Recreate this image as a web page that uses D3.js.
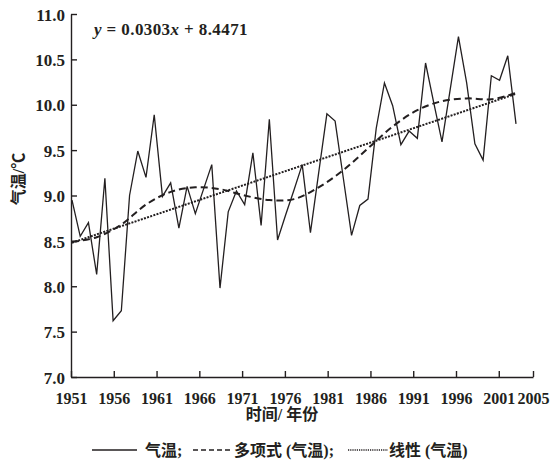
<!DOCTYPE html>
<html>
<head>
<meta charset="utf-8">
<script src="https://cdn.jsdelivr.net/npm/d3@7"></script>
<style>
  body { margin: 0; background: #fff; }
  text { font-family: "Liberation Serif", "Noto Sans CJK SC", serif; font-weight: bold; fill: #231f20; }
</style>
</head>
<body>
<div id="chart"></div>
<script>

// data: annual mean temperature
var years = [1951, 1952, 1953, 1954, 1955, 1956, 1957, 1958, 1959, 1960,
  1961, 1962, 1963, 1964, 1965, 1966, 1967, 1968, 1969, 1970,
  1971, 1972, 1973, 1974, 1975, 1976, 1977, 1978, 1979, 1980,
  1981, 1982, 1983, 1984, 1985, 1986, 1987, 1988, 1989, 1990,
  1991, 1992, 1993, 1994, 1995, 1996, 1997, 1998, 1999, 2000,
  2001, 2002, 2003, 2004, 2005];
var temps = [8.95, 8.55, 8.70, 8.13, 9.19, 7.62, 7.73, 9.00, 9.49, 9.20,
  9.89, 8.99, 9.14, 8.64, 9.10, 8.80, 9.07, 9.34, 7.98, 8.82,
  9.05, 8.90, 9.47, 8.67, 9.84, 8.51, 8.79, 9.06, 9.34, 8.59,
  9.25, 9.90, 9.82, 9.19, 8.56, 8.89, 8.96, 9.74, 10.24, 9.99,
  9.56, 9.71, 9.63, 10.46, 10.02, 9.59, 10.17, 10.75, 10.24, 9.57,
  9.39, 10.32, 10.27, 10.54, 9.79];

// polynomial trend
var polyYears = [1951, 1954, 1957, 1960, 1963, 1966, 1969, 1972, 1975, 1978,
  1981, 1984, 1987, 1990, 1993, 1996, 1999, 2002, 2005];
var polyTemps = [8.49, 8.54, 8.68, 8.90, 9.04, 9.09, 9.07, 9.00, 8.95, 8.96,
  9.09, 9.28, 9.52, 9.76, 9.94, 10.04, 10.07, 10.06, 10.13];

// linear trend end points
var linYears = [1951, 2005];
var linTemps = [8.48, 10.12];

var xTicks = [1951, 1956, 1961, 1966, 1971, 1976, 1981, 1986, 1991, 1996, 2001, 2005];
var yTicks = [7.0, 7.5, 8.0, 8.5, 9.0, 9.5, 10.0, 10.5, 11.0];

var width = 559, height = 461;
var ink = "#231f20";

var svg = d3.select("#chart").append("svg")
  .attr("width", width)
  .attr("height", height);

// axis scale (labelled years) and category scale for the series
var x = d3.scaleLinear().domain([1951, 2005]).range([71, 533]);
var xc = d3.scalePoint().domain(years).range([72, 516]);
var y = d3.scaleLinear().domain([7, 11]).range([377, 14]);

var xAxis = svg.append("g")
  .attr("transform", "translate(0,377)")
  .call(d3.axisBottom(x)
    .tickValues(xTicks)
    .tickFormat(d3.format("d"))
    .tickSizeInner(-6)
    .tickSizeOuter(0));
xAxis.selectAll("text")
  .attr("y", 27)
  .attr("dy", null)
  .style("font-size", "16px");

var yAxis = svg.append("g")
  .attr("transform", "translate(71,0)")
  .call(d3.axisLeft(y)
    .tickValues(yTicks)
    .tickFormat(d3.format(".1f"))
    .tickSizeInner(-6)
    .tickSizeOuter(0)
    .tickPadding(6));
yAxis.selectAll("text")
  .attr("dy", "0.36em")
  .style("font-size", "17px");

svg.selectAll(".domain, .tick line")
  .attr("stroke", ink)
  .attr("stroke-width", 1.4);

var line = d3.line()
  .x(function(d) { return xc(d[0]); })
  .y(function(d) { return y(d[1]); });

svg.append("path")
  .datum(d3.zip(years, temps))
  .attr("fill", "none")
  .attr("stroke", ink)
  .attr("stroke-width", 1.3)
  .attr("stroke-linejoin", "miter")
  .attr("d", line);

var polyLine = d3.line()
  .x(function(d) { return xc(d[0]); })
  .y(function(d) { return y(d[1]); })
  .curve(d3.curveCatmullRom);

svg.append("path")
  .datum(d3.zip(polyYears, polyTemps))
  .attr("fill", "none")
  .attr("stroke", ink)
  .attr("stroke-width", 2)
  .attr("stroke-dasharray", "7,4")
  .attr("d", polyLine);

svg.append("path")
  .datum(d3.zip(linYears, linTemps))
  .attr("fill", "none")
  .attr("stroke", ink)
  .attr("stroke-width", 2)
  .attr("stroke-dasharray", "2,1.3")
  .attr("d", line);

// equation
var eq = svg.append("text")
  .attr("x", 94)
  .attr("y", 35)
  .style("font-size", "17px")
  .style("letter-spacing", "0.4px");
eq.append("tspan").style("font-style", "italic").text("y");
eq.append("tspan").text(" = 0.0303");
eq.append("tspan").style("font-style", "italic").text("x");
eq.append("tspan").text(" + 8.4471");

// axis titles
svg.append("text")
  .attr("transform", "translate(24,179) rotate(-90)")
  .attr("text-anchor", "middle")
  .style("font-size", "16px")
  .text("气温/℃");

svg.append("text")
  .attr("x", 282)
  .attr("y", 420)
  .attr("text-anchor", "middle")
  .style("font-size", "16px")
  .text("时间/ 年份");

// legend
var legend = [
  {label: "气温;", x0: 92, x1: 137, dash: null, w: 1.3},
  {label: "多项式 (气温);", x0: 193, x1: 233, dash: "5,3", w: 1.3},
  {label: "线性 (气温)", x0: 348, x1: 388, dash: "1.2,1", w: 1.3}
];
var lg = svg.append("g").selectAll("g")
  .data(legend)
  .join("g");
lg.append("line")
  .attr("x1", function(d) { return d.x0; })
  .attr("x2", function(d) { return d.x1; })
  .attr("y1", 450)
  .attr("y2", 450)
  .attr("stroke", ink)
  .attr("stroke-width", function(d) { return d.w; })
  .attr("stroke-dasharray", function(d) { return d.dash; });
lg.append("text")
  .attr("x", function(d) { return d.x1 + (d.dash ? 1 : 8); })
  .attr("y", 456)
  .style("font-size", "16px")
  .text(function(d) { return d.label; });

</script>
</body>
</html>
